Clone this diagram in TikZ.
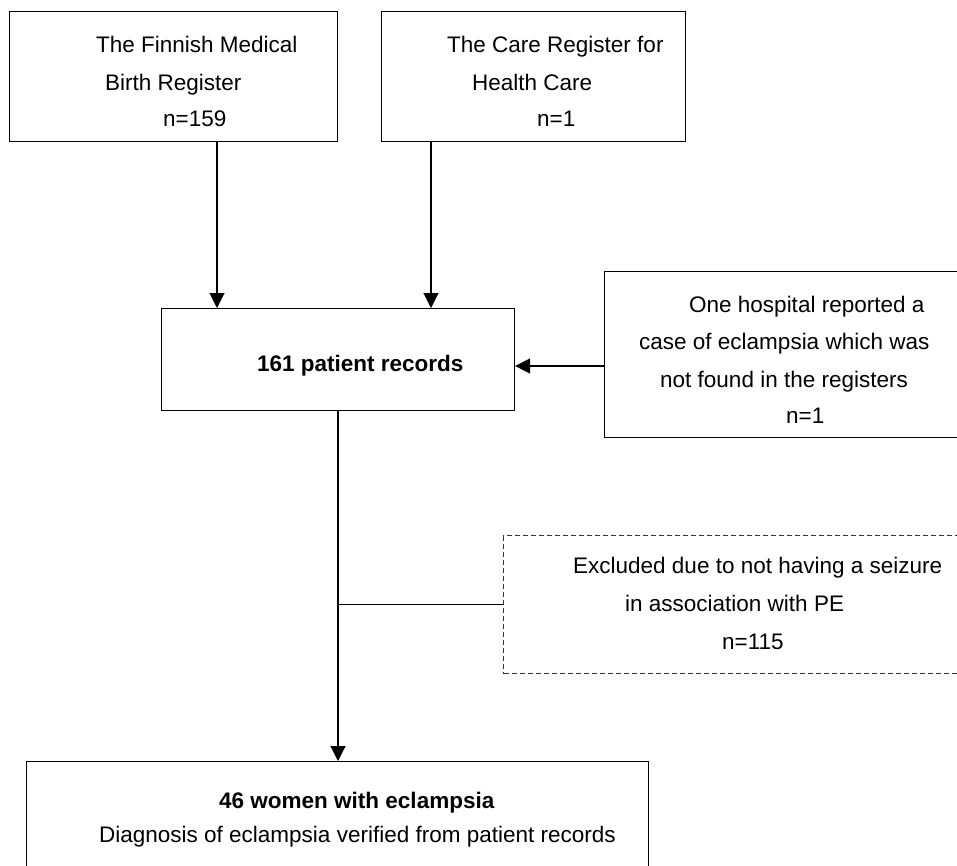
\documentclass[tikz,border=0pt]{standalone}
\usepackage{fontspec}
\setmainfont{Liberation Sans}
\usetikzlibrary{arrows.meta}
\tikzset{
  box/.style={draw=black, line width=1.1pt, inner sep=0pt, anchor=north west},
  dbox/.style={draw=black!80, line width=1.1pt, dash pattern=on 5pt off 3pt, inner sep=0pt, anchor=north west},
  txt/.style={anchor=base west, inner sep=0pt, font=\fontsize{22.5}{27}\selectfont},
  btxt/.style={txt, font=\fontsize{22.5}{27}\selectfont\bfseries},
  link/.style={line width=1.1pt, draw=black},
  arr/.style={link, -{Triangle[width=15pt,length=15pt]}}
}
\begin{document}
\begin{tikzpicture}[x=1pt,y=-1pt]
\useasboundingbox (0,0) rectangle (957,866);
\clip (0,0) rectangle (957,866);
% boxes
\node[box, minimum width=328pt, minimum height=130pt] (b1) at (9,11) {};
\node[box, minimum width=304pt, minimum height=130pt] (b2) at (381,11) {};
\node[box, minimum width=353pt, minimum height=102pt] (b3) at (161,308) {};
\node[box, minimum width=361pt, minimum height=166pt] (b4) at (604,271) {};
\node[dbox, minimum width=467pt, minimum height=138pt] (ex) at (503,535) {};
\node[box, minimum width=622pt, minimum height=125pt] (b5) at (26,761) {};
% texts
\node[txt] (t1a) at (96,53) {The Finnish Medical};
\node[txt] (t1b) at (105,91) {Birth Register};
\node[txt] (t1c) at (163,127) {n=159};
\node[txt] (t2a) at (447,53) {The Care Register for};
\node[txt] (t2b) at (472,91) {Health Care};
\node[txt] (t2c) at (537,127) {n=1};
\node[btxt] (t3) at (257,371) {161 patient records};
\node[txt] (t4a) at (689,312) {One hospital reported a};
\node[txt] (t4b) at (639,349) {case of eclampsia which was};
\node[txt] (t4c) at (660,387) {not found in the registers};
\node[txt] (t4d) at (786,423) {n=1};
\node[txt] (tea) at (573,573) {Excluded due to not having a seizure};
\node[txt] (teb) at (625,611) {in association with PE};
\node[txt] (tec) at (722,649) {n=115};
\node[btxt] (t5a) at (219,808) {46 women with eclampsia};
\node[txt] (t5b) at (99,842) {Diagnosis of eclampsia verified from patient records};
% connector guides
\coordinate (a1) at (217,0);
\coordinate (a2) at (431,0);
\coordinate (a3) at (0,366);
\coordinate (vx) at (338,0);
% connectors
\draw[arr] (a1 |- b1.south) -- (a1 |- b3.north);
\draw[arr] (a2 |- b2.south) -- (a2 |- b3.north);
\draw[arr] (a3 -| b4.west) -- (a3 -| b3.east);
\draw[arr] (vx |- b3.south) -- (vx |- b5.north);
\draw[link] (vx |- ex.west) -- (ex.west);
\end{tikzpicture}
\end{document}
